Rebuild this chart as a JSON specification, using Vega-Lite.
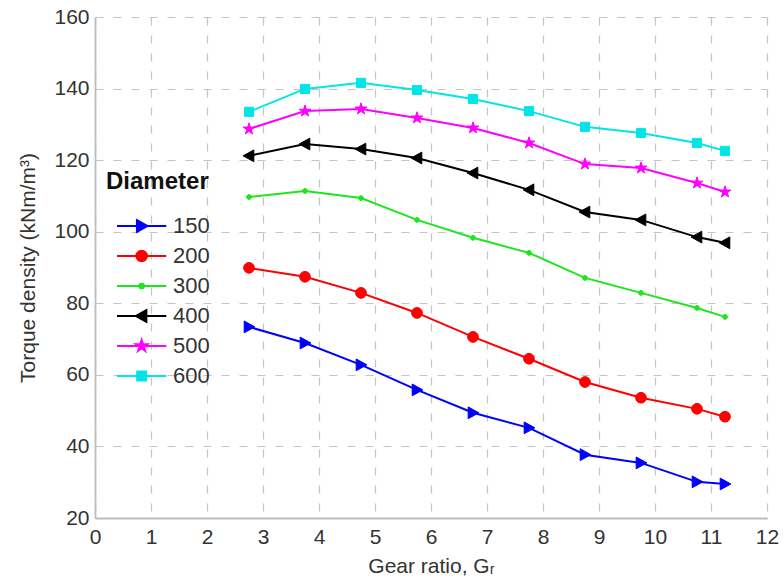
{
  "$schema": "https://vega.github.io/schema/vega-lite/v6.json",
  "width": 672,
  "height": 501,
  "autosize": "none",
  "padding": {"left": 95, "top": 17, "right": 17, "bottom": 69},
  "background": "white",
  "config": {
    "view": {"stroke": null},
    "font": "Liberation Sans, DejaVu Sans, sans-serif",
    "axis": {
      "labelFontSize": 21,
      "labelColor": "#333333",
      "titleFontSize": 21,
      "titleColor": "#333333",
      "titleFontWeight": "normal",
      "grid": true,
      "gridDash": [8, 10],
      "gridColor": "#c4c4c4",
      "gridWidth": 1.2,
      "domainColor": "#bdbdbd",
      "domainWidth": 1.8,
      "ticks": false
    },
    "legend": {
      "orient": "none",
      "legendX": 11,
      "legendY": 153,
      "padding": 0,
      "symbolSize": 110,
      "symbolStrokeWidth": 2,
      "labelFontSize": 22,
      "labelColor": "#333333",
      "labelOffset": 45,
      "rowPadding": 8,
      "titleFontSize": 24,
      "titleFontWeight": "bold",
      "titleColor": "#111111",
      "titlePadding": 21
    }
  },
  "data": {
    "values": [
      {"Gr": 2.75, "D": "150", "T": 73.4}, {"Gr": 3.75, "D": "150", "T": 68.9}, {"Gr": 4.75, "D": "150", "T": 62.8}, {"Gr": 5.75, "D": "150", "T": 55.8}, {"Gr": 6.75, "D": "150", "T": 49.4},
      {"Gr": 7.75, "D": "150", "T": 45.2}, {"Gr": 8.75, "D": "150", "T": 37.7}, {"Gr": 9.75, "D": "150", "T": 35.4}, {"Gr": 10.75, "D": "150", "T": 30.1}, {"Gr": 11.25, "D": "150", "T": 29.5},
      {"Gr": 2.75, "D": "200", "T": 89.9}, {"Gr": 3.75, "D": "200", "T": 87.4}, {"Gr": 4.75, "D": "200", "T": 82.9}, {"Gr": 5.75, "D": "200", "T": 77.3}, {"Gr": 6.75, "D": "200", "T": 70.6},
      {"Gr": 7.75, "D": "200", "T": 64.5}, {"Gr": 8.75, "D": "200", "T": 58.0}, {"Gr": 9.75, "D": "200", "T": 53.6}, {"Gr": 10.75, "D": "200", "T": 50.5}, {"Gr": 11.25, "D": "200", "T": 48.3},
      {"Gr": 2.75, "D": "300", "T": 109.7}, {"Gr": 3.75, "D": "300", "T": 111.4}, {"Gr": 4.75, "D": "300", "T": 109.4}, {"Gr": 5.75, "D": "300", "T": 103.3}, {"Gr": 6.75, "D": "300", "T": 98.3},
      {"Gr": 7.75, "D": "300", "T": 94.1}, {"Gr": 8.75, "D": "300", "T": 87.1}, {"Gr": 9.75, "D": "300", "T": 82.9}, {"Gr": 10.75, "D": "300", "T": 78.7}, {"Gr": 11.25, "D": "300", "T": 76.2},
      {"Gr": 2.75, "D": "400", "T": 121.2}, {"Gr": 3.75, "D": "400", "T": 124.5}, {"Gr": 4.75, "D": "400", "T": 123.1}, {"Gr": 5.75, "D": "400", "T": 120.6}, {"Gr": 6.75, "D": "400", "T": 116.4},
      {"Gr": 7.75, "D": "400", "T": 111.7}, {"Gr": 8.75, "D": "400", "T": 105.5}, {"Gr": 9.75, "D": "400", "T": 103.3}, {"Gr": 10.75, "D": "400", "T": 98.5}, {"Gr": 11.25, "D": "400", "T": 96.9},
      {"Gr": 2.75, "D": "500", "T": 128.7}, {"Gr": 3.75, "D": "500", "T": 133.7}, {"Gr": 4.75, "D": "500", "T": 134.3}, {"Gr": 5.75, "D": "500", "T": 131.8}, {"Gr": 6.75, "D": "500", "T": 129.0},
      {"Gr": 7.75, "D": "500", "T": 124.8}, {"Gr": 8.75, "D": "500", "T": 118.9}, {"Gr": 9.75, "D": "500", "T": 117.8}, {"Gr": 10.75, "D": "500", "T": 113.6}, {"Gr": 11.25, "D": "500", "T": 111.1},
      {"Gr": 2.75, "D": "600", "T": 133.5}, {"Gr": 3.75, "D": "600", "T": 139.9}, {"Gr": 4.75, "D": "600", "T": 141.6}, {"Gr": 5.75, "D": "600", "T": 139.6}, {"Gr": 6.75, "D": "600", "T": 137.1},
      {"Gr": 7.75, "D": "600", "T": 133.7}, {"Gr": 8.75, "D": "600", "T": 129.3}, {"Gr": 9.75, "D": "600", "T": 127.6}, {"Gr": 10.75, "D": "600", "T": 124.8}, {"Gr": 11.25, "D": "600", "T": 122.6}
    ]
  },
  "encoding": {
    "x": {
      "field": "Gr", "type": "quantitative",
      "scale": {"domain": [0, 12], "nice": false, "zero": false},
      "axis": {"values": [0,1,2,3,4,5,6,7,8,9,10,11,12], "title": "Gear ratio, Gᵣ", "labelPadding": 8, "titlePadding": 8, "labelFlush": false}
    },
    "y": {
      "field": "T", "type": "quantitative",
      "scale": {"domain": [20, 160], "nice": false, "zero": false},
      "axis": {"values": [20,40,60,80,100,120,140,160], "title": "Torque density (kNm/m³)", "labelPadding": 6, "titlePadding": 15, "labelFlush": false}
    }
  },
  "layer": [
    {
      "mark": {"type": "line", "strokeWidth": 2},
      "encoding": {
        "color": {"field": "D", "type": "nominal", "legend": null,
          "scale": {"domain": ["150","200","300","400","500","600"], "range": ["#0000ff","#ff0000","#1ee61e","#000000","#ff00ff","#00e5e5"]}}
      }
    },
    {
      "mark": {"type": "point", "filled": true, "size": 115, "opacity": 1, "strokeWidth": 1},
      "encoding": {
        "fill": {"field": "D", "type": "nominal", "legend": null,
          "scale": {"domain": ["150","200","300","400","500","600"], "range": ["#0000ff","#ff0000","#1ee61e","#000000","#ff00ff","#00e5e5"]}},
        "stroke": {"field": "D", "type": "nominal", "legend": null,
          "scale": {"domain": ["150","200","300","400","500","600"], "range": ["#0000ff","#ff0000","#1ee61e","#000000","#ff00ff","#00e5e5"]}},
        "shape": {"field": "D", "type": "nominal", "legend": null,
          "scale": {"domain": ["150","200","300","400","500","600"], "range": [
            "M-0.9,-1.1L1.1,0L-0.9,1.1Z",
            "M1,0A1,1,0,1,1,-1,0A1,1,0,1,1,1,0Z",
            "M0.45,0A0.45,0.45,0,1,1,-0.45,0A0.45,0.45,0,1,1,0.45,0Z",
            "M0.9,-1.1L-1.1,0L0.9,1.1Z",
            "M0,-1.15L0.259,-0.355L1.094,-0.355L0.417,0.136L0.676,0.93L0,0.439L-0.676,0.93L-0.417,0.136L-1.094,-0.355L-0.259,-0.355Z",
            "M-0.85,-0.85H0.85V0.85H-0.85Z"
          ]}}
      }
    },
    {
      "transform": [{"filter": "false"}],
      "mark": {"type": "point", "filled": true, "opacity": 1},
      "encoding": {
        "fill": {"field": "D", "type": "nominal", "title": "Diameter",
          "scale": {"domain": ["150","200","300","400","500","600"], "range": ["#0000ff","#ff0000","#1ee61e","#000000","#ff00ff","#00e5e5"]}},
        "stroke": {"field": "D", "type": "nominal", "title": "Diameter",
          "scale": {"domain": ["150","200","300","400","500","600"], "range": ["#0000ff","#ff0000","#1ee61e","#000000","#ff00ff","#00e5e5"]}},
        "shape": {"field": "D", "type": "nominal", "title": "Diameter",
          "scale": {"domain": ["150","200","300","400","500","600"], "range": [
            "M0,0H9.4M3.8,-1.1L5.8,0L3.8,1.1Z",
            "M0,0H9.4M5.7,0A1,1,0,1,1,3.7,0A1,1,0,1,1,5.7,0Z",
            "M0,0H9.4M5.15,0A0.45,0.45,0,1,1,4.25,0A0.45,0.45,0,1,1,5.15,0Z",
            "M0,0H9.4M5.6,-1.1L3.6,0L5.6,1.1Z",
            "M0,0H9.4M4.7,-1.15L4.959,-0.355L5.794,-0.355L5.117,0.136L5.376,0.93L4.7,0.439L4.024,0.93L4.283,0.136L3.606,-0.355L4.441,-0.355Z",
            "M0,0H9.4M3.85,-0.85H5.55V0.85H3.85Z"
          ]}}
      }
    }
  ],
  "resolve": {"scale": {"color": "independent", "fill": "independent", "stroke": "independent", "shape": "independent"}}
}
